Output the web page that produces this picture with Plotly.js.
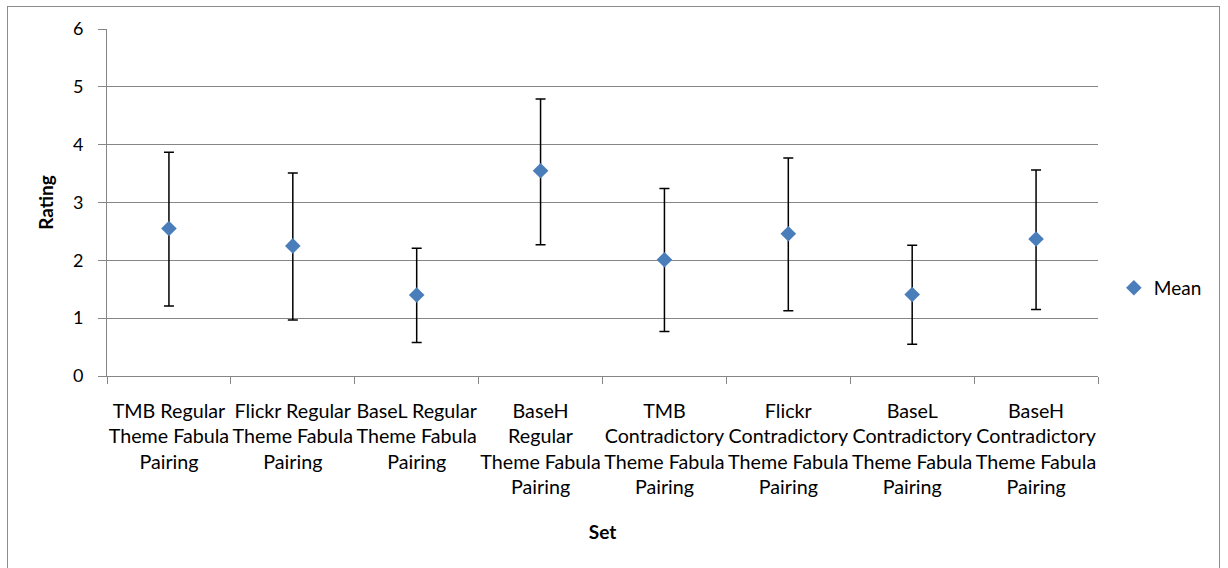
<!DOCTYPE html>
<html>
<head>
<meta charset="utf-8">
<script src="https://cdn.plot.ly/plotly-3.0.1.min.js"></script>
<style>
  html, body { margin: 0; padding: 0; background: #fff; }
  #wrap { position: relative; width: 1228px; height: 568px; overflow: hidden; }
  #chart { width: 1228px; height: 568px; }
  #frame { position: absolute; left: 7px; top: 6px; width: 1213px; height: 620px;
           border: 1px solid #8c8c8c; pointer-events: none; box-sizing: border-box; }
</style>
</head>
<body>
<div id="wrap">
  <div id="chart"></div>
  <div id="frame"></div>
</div>
<script>
const categories = [
  "TMB Regular<br>Theme Fabula<br>Pairing",
  "Flickr Regular<br>Theme Fabula<br>Pairing",
  "BaseL Regular<br>Theme Fabula<br>Pairing",
  "BaseH<br>Regular<br>Theme Fabula<br>Pairing",
  "TMB<br>Contradictory<br>Theme Fabula<br>Pairing",
  "Flickr<br>Contradictory<br>Theme Fabula<br>Pairing",
  "BaseL<br>Contradictory<br>Theme Fabula<br>Pairing",
  "BaseH<br>Contradictory<br>Theme Fabula<br>Pairing"
];
const meanValues = [2.55, 2.25, 1.40, 3.55, 2.01, 2.46, 1.41, 2.37];
const errorUpper = [1.32, 1.26, 0.81, 1.24, 1.23, 1.31, 0.85, 1.19];
const errorLower = [1.34, 1.28, 0.82, 1.28, 1.24, 1.33, 0.86, 1.22];
const yTickValues = [0, 1, 2, 3, 4, 5, 6];

const FONT = "Lato, 'Open Sans', sans-serif";

const trace = {
  type: "scatter",
  mode: "markers",
  name: "Mean",
  x: categories,
  y: meanValues,
  marker: { symbol: "diamond", size: 12, color: "#4a7ebb" },
  error_y: {
    type: "data",
    symmetric: false,
    array: errorUpper,
    arrayminus: errorLower,
    color: "#000000",
    thickness: 1.5,
    width: 5
  }
};

const layout = {
  width: 1228,
  height: 568,
  margin: { l: 107, r: 130, t: 29, b: 192, autoexpand: false },
  paper_bgcolor: "rgba(0,0,0,0)",
  plot_bgcolor: "#ffffff",
  font: { family: FONT, size: 19, color: "#000000" },
  showlegend: true,
  legend: {
    x: 1.016, y: 0.254, xanchor: "left", yanchor: "middle",
    font: { family: FONT, size: 19, color: "#000000" },
    itemwidth: 30
  },
  xaxis: {
    type: "category",
    range: [-0.5, categories.length - 0.5],
    automargin: false,
    tickmode: "array",
    tickvals: categories,
    ticktext: categories,
    tickson: "boundaries",
    ticks: "outside",
    ticklen: 7,
    tickcolor: "#868686",
    showline: true,
    linecolor: "#868686",
    linewidth: 1,
    showgrid: false,
    zeroline: false,
    tickangle: 0,
    ticklabelstandoff: 17,
    tickfont: { family: FONT, size: 19.7, color: "#000000" },
    title: { text: "<b>Set</b>", font: { family: FONT, size: 19, color: "#000000" }, standoff: 28 },
    fixedrange: true
  },
  yaxis: {
    range: [0, 6],
    automargin: false,
    tickmode: "array",
    tickvals: yTickValues,
    ticks: "outside",
    ticklen: 8,
    tickcolor: "#868686",
    showline: true,
    linecolor: "#868686",
    linewidth: 1,
    showgrid: true,
    gridcolor: "#868686",
    gridwidth: 1,
    zeroline: false,
    ticklabelstandoff: 11,
    tickfont: { family: FONT, size: 18, color: "#000000" },
    title: { text: "<b>Rating</b>", font: { family: FONT, size: 19, color: "#000000" }, standoff: 14 },
    fixedrange: true
  }
};

Plotly.newPlot("chart", [trace], layout, { displayModeBar: false, staticPlot: true });
</script>
</body>
</html>
